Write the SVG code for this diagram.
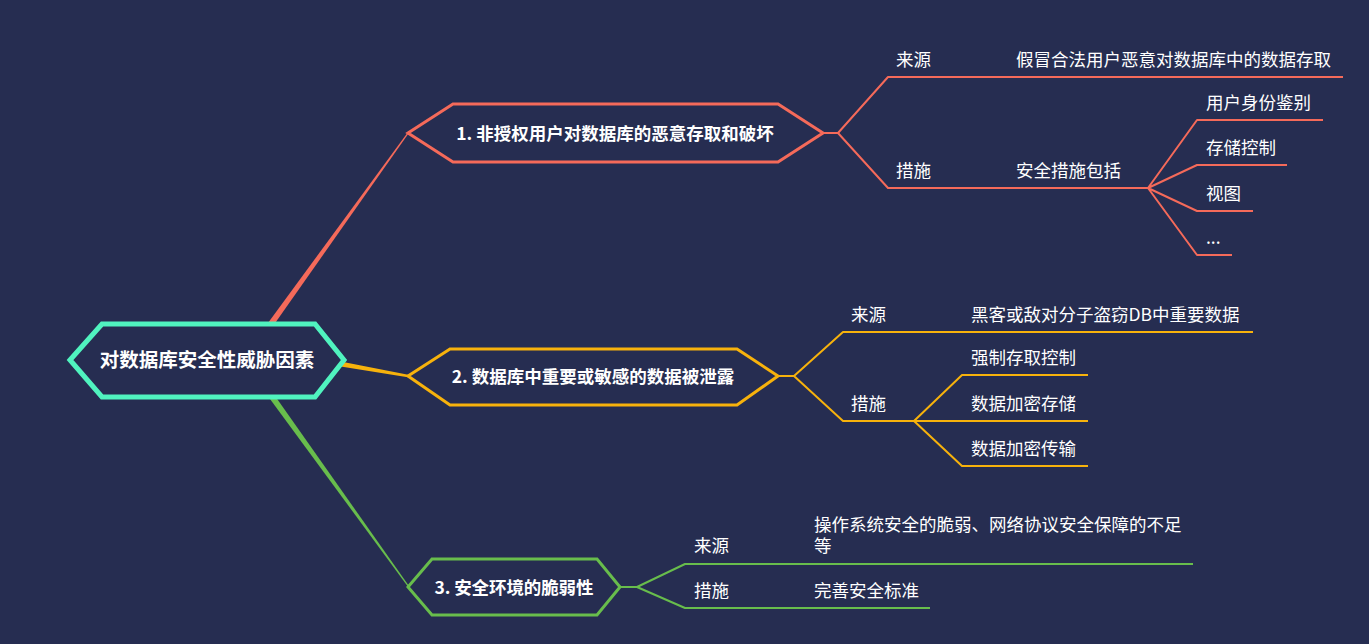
<svg xmlns="http://www.w3.org/2000/svg" width="1369" height="644" viewBox="0 0 1369 644">
<style>
.bg{fill:#262D51}
.t{font-family:"Noto Sans CJK SC","Noto Sans",sans-serif;fill:#FFFFFF;font-size:17.5px}
.b{font-weight:bold;text-anchor:middle}
.hex{fill:#262D51;stroke-width:3;stroke-linejoin:miter}
.ln{fill:none;stroke-width:2;stroke-linejoin:round;stroke-linecap:butt}
.red{stroke:#F56A5A}
.yel{stroke:#F7B20C}
.grn{stroke:#68BD4C}
</style>
<rect class="bg" x="0" y="0" width="1369" height="644"/>
<g id="connectors">
  <polygon points="270.4,329.8 265.6,326.2 407.5,132.7 408.5,133.4" fill="#F56A5A"/>
  <polygon points="334.5,365.6 335.5,360.4 408.2,374.8 407.8,377.2" fill="#F7B20C"/>
  <polygon points="272.4,392.3 267.6,395.8 408.5,587.4 409.5,586.7" fill="#68BD4C"/>
  <path class="ln red" d="M823,133 H838 L888,77 H1343 M838,133 L888,188 H1148 M1148,188 L1197,120 H1323 M1148,188 L1197,165 H1287 M1148,188 L1197,211 H1253 M1148,188 L1197,255 H1232"/>
  <path class="ln yel" d="M778,376 H794 L843,332 H1253 M794,376 L843,421 H914 M914,421 L962,375 H1088 M914,421 H1088 M914,421 L962,466 H1088"/>
  <path class="ln grn" d="M620,587 H637 L685,564 H1193 M637,587 L685,608 H930"/>
</g>
<g id="root">
  <polygon points="70,360 102,324 315,324 344,360 315,397 102,397" fill="#262D51" stroke="#50F3BF" stroke-width="5"/>
  <text class="t b" x="207" y="367" style="font-size:19.5px">对数据库安全性威胁因素</text>
</g>
<g id="branch1">
  <polygon class="hex red" points="408,133 453,104 778,104 823,133 778,162 453,162"/>
  <text class="t b" x="615" y="140">1. 非授权用户对数据库的恶意存取和破坏</text>
</g>
<g id="branch2">
  <polygon class="hex yel" points="408,376 450,349 737,349 778,376 737,405 450,405"/>
  <text class="t b" x="593" y="383">2. 数据库中重要或敏感的数据被泄露</text>
</g>
<g id="branch3">
  <polygon class="hex grn" points="408,587 432,559 597,559 620,587 597,615 432,615"/>
  <text class="t b" x="514" y="594" textLength="159" lengthAdjust="spacing">3. 安全环境的脆弱性</text>
</g>
<g id="b1-source"><text class="t" x="896" y="66">来源</text></g>
<g id="b1-source-detail"><text class="t" x="1016" y="66">假冒合法用户恶意对数据库中的数据存取</text></g>
<g id="b1-measure"><text class="t" x="896" y="177">措施</text></g>
<g id="b1-measure-detail"><text class="t" x="1016" y="177">安全措施包括</text></g>
<g id="b1-m1"><text class="t" x="1206" y="109">用户身份鉴别</text></g>
<g id="b1-m2"><text class="t" x="1206" y="154">存储控制</text></g>
<g id="b1-m3"><text class="t" x="1206" y="200">视图</text></g>
<g id="b1-m4"><text class="t" x="1206" y="244">...</text></g>
<g id="b2-source"><text class="t" x="851" y="321">来源</text></g>
<g id="b2-source-detail"><text class="t" x="971" y="321">黑客或敌对分子盗窃DB中重要数据</text></g>
<g id="b2-measure"><text class="t" x="851" y="410">措施</text></g>
<g id="b2-m1"><text class="t" x="971" y="364">强制存取控制</text></g>
<g id="b2-m2"><text class="t" x="971" y="410">数据加密存储</text></g>
<g id="b2-m3"><text class="t" x="971" y="455">数据加密传输</text></g>
<g id="b3-source"><text class="t" x="694" y="552">来源</text></g>
<g id="b3-source-detail"><text class="t" x="814" y="531">操作系统安全的脆弱、网络协议安全保障的不足</text><text class="t" x="814" y="552">等</text></g>
<g id="b3-measure"><text class="t" x="694" y="597">措施</text></g>
<g id="b3-measure-detail"><text class="t" x="814" y="597">完善安全标准</text></g>
</svg>
